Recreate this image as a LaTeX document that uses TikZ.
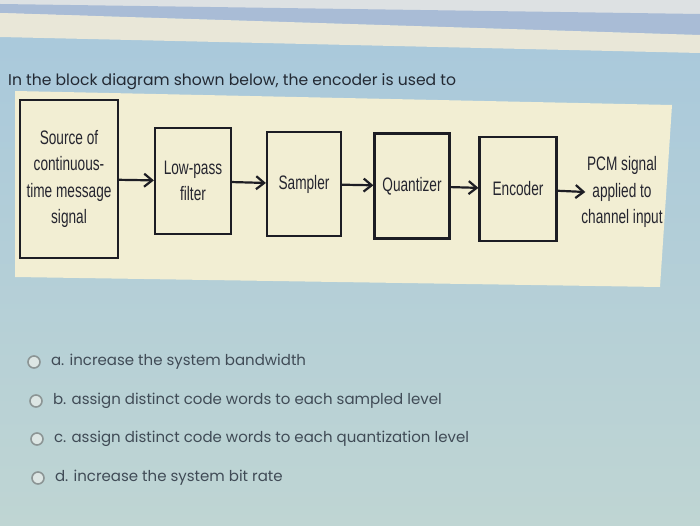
\documentclass[tikz,border=0pt]{standalone}
\usepackage{fontspec}
\setmainfont{Poppins}
\newfontfamily\blockfont[FakeStretch=0.7]{Liberation Sans}
\usetikzlibrary{positioning,arrows.meta}
\definecolor{screenblue}{HTML}{A8C8DC}
\definecolor{screengreen}{HTML}{BFD5D3}
\definecolor{topgray}{HTML}{DDE1E3}
\definecolor{bandblue}{HTML}{A9BCD6}
\definecolor{stripcream}{HTML}{E9E7D8}
\definecolor{panelcream}{HTML}{F2EED3}
\definecolor{boxline}{HTML}{1D1D24}
\definecolor{blocktext}{HTML}{25252F}
\definecolor{asktext}{HTML}{232933}
\definecolor{answertext}{HTML}{404B56}
\definecolor{radiogray}{HTML}{8C9595}
\definecolor{radiofill}{HTML}{DDE6E4}
\tikzset{
	block/.style={draw=boxline, line width=2.2pt, inner sep=0pt, align=center,
		font=\blockfont\fontsize{19.5}{26.5}\selectfont, text=blocktext},
	flow/.style={draw=boxline, line width=2.2pt, -{Straight Barb[length=8pt,width=13pt]}},
	radio/.style={circle, draw=radiogray, fill=radiofill, line width=1.6pt,
		minimum size=12pt, inner sep=0pt},
	answer/.style={font=\fontsize{15}{18}\selectfont, text=answertext, inner sep=0pt},
}

\begin{document}
\begin{tikzpicture}[x=1pt, y=-1pt]
	\useasboundingbox (0,0) rectangle (700,526);
	% screen background
	\shade[top color=screenblue, bottom color=screengreen] (0,0) rectangle (700,526);
	\fill[topgray] (0,0) rectangle (700,16);
	\fill[bandblue] (0,4) -- (700,14) -- (700,35) -- (0,13) -- cycle;
	\fill[stripcream] (0,13) -- (700,35) -- (700,53) -- (0,37) -- cycle;
	\fill[panelcream] (15,91) -- (672,105) -- (660,287) -- (15,277) -- cycle;

	\node[font=\fontsize{15.6}{18}\selectfont, text=asktext, anchor=west, inner sep=0pt] (ask) at (8,82)
		{In the block diagram shown below, the encoder is used to};

	% blocks
	\node[block, minimum width=98pt, minimum height=158pt] (src) at (69,179)
		{Source of\\continuous-\\time message\\signal};
	\node[block, minimum width=76pt, minimum height=106pt] (lpf) at (193,181) {Low-pass\\filter};
	\node[block, minimum width=74pt, minimum height=104pt] (smp) at (304,184) {Sampler};
	\node[block, minimum width=75pt, minimum height=105pt] (qnt) at (412,186) {Quantizer};
	\node[block, minimum width=77pt, minimum height=104pt] (enc) at (518,189) {Encoder};
	\node[block, draw=none] (pcm) at (622,192) {PCM signal\\applied to\\channel input};

	\draw[flow] (src) -- (lpf);
	\draw[flow] (lpf) -- (smp);
	\draw[flow] (smp) -- (qnt);
	\draw[flow] (qnt) -- (enc);
	\draw[flow] (enc) -- ([xshift=5pt]pcm.west);

	% answers
	\node[radio] (ra) at (34,362) {};
	\node[radio] (rb) at (36,401) {};
	\node[radio] (rc) at (37,439) {};
	\node[radio] (rd) at (38,478) {};
	\node[answer, right=10pt of ra] (aa) {a. increase the system bandwidth};
	\node[answer, right=10pt of rb] (ab) {b. assign distinct code words to each sampled level};
	\node[answer, right=10pt of rc] (ac) {c. assign distinct code words to each quantization level};
	\node[answer, right=10pt of rd] (ad) {d. increase the system bit rate};
\end{tikzpicture}
\end{document}
